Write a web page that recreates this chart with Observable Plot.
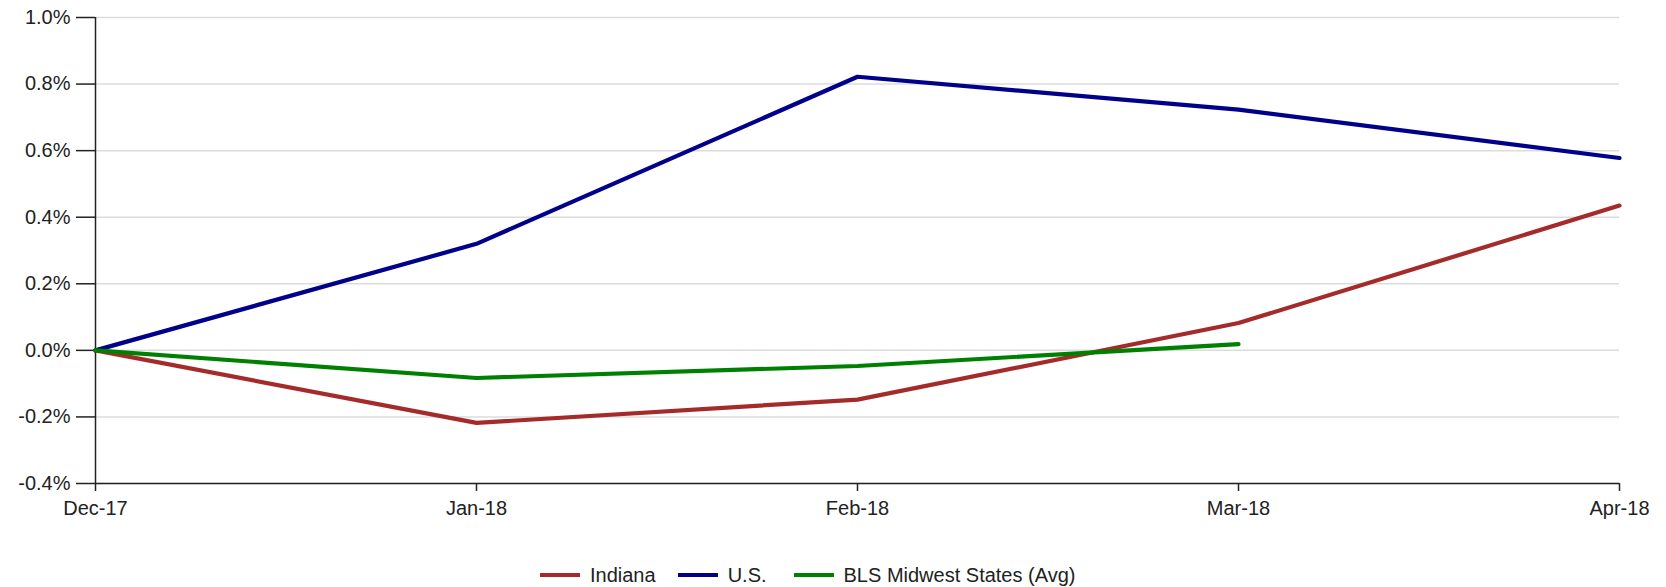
<!DOCTYPE html>
<html>
<head>
<meta charset="utf-8">
<script src="https://cdn.jsdelivr.net/npm/d3@7"></script>
<script src="https://cdn.jsdelivr.net/npm/@observablehq/plot@0.6"></script>
<style>
  html, body { margin: 0; padding: 0; background: #fff; }
  body { width: 1666px; height: 587px; overflow: hidden; font-family: "Liberation Sans", Arial, sans-serif; }
  #legend { display: flex; align-items: center; margin-left: 540px; padding-top: 40px; font-size: 20px; color: #222; line-height: 20px; }
  .item { display: flex; align-items: center; }
  .sw { width: 40px; height: 4.5px; margin-right: 10px; }
</style>
</head>
<body>
<div id="chart"></div>
<div id="legend"></div>
<script>
const months = ["Dec-17", "Jan-18", "Feb-18", "Mar-18", "Apr-18"];
const indiana = [0, -0.218, -0.148, 0.082, 0.435];
const us = [0, 0.32, 0.822, 0.723, 0.578];
const midwest = [0, -0.083, -0.047, 0.019];
const seriesNames = ["Indiana", "U.S.", "BLS Midwest States (Avg)"];
const seriesColors = ["#a52a2a", "#00008b", "#008000"];
const yTicks = [-0.4, -0.2, 0, 0.2, 0.4, 0.6, 0.8, 1.0];

const seriesValues = [indiana, us, midwest];
const rows = [];
seriesValues.forEach((vals, si) => {
  vals.forEach((v, i) => rows.push({ month: months[i], value: v, series: seriesNames[si] }));
});

const chart = Plot.plot({
  width: 1666,
  height: 525,
  marginLeft: 95,
  marginRight: 47,
  marginTop: 17,
  marginBottom: 42,
  style: { fontFamily: "'Liberation Sans', Arial, sans-serif", fontSize: "20px", color: "#222", background: "#fff" },
  x: { type: "point", domain: months, padding: 0, label: null },
  y: { domain: [-0.4, 1.0], label: null },
  color: { domain: seriesNames, range: seriesColors },
  marks: [
    Plot.gridY(yTicks, { stroke: "#dcdcdc", strokeOpacity: 1, strokeWidth: 1.5 }),
    Plot.ruleY([-0.4], { stroke: "#222", strokeWidth: 1.5 }),
    Plot.ruleX([months[0]], { stroke: "#222", strokeWidth: 1.5 }),
    Plot.axisY(yTicks, { tickSize: 19, tickPadding: 6, tickFormat: d => d.toFixed(1) + "%", stroke: "#222", strokeWidth: 1.5, fill: "#222", label: null }),
    Plot.axisX(months, { tickSize: 8, tickPadding: 9.5, stroke: "#222", strokeWidth: 1.5, fill: "#222", label: null }),
    Plot.line(rows, { x: "month", y: "value", z: "series", stroke: "series", strokeWidth: 4.2 })
  ]
});
document.getElementById("chart").appendChild(chart);

const legend = document.getElementById("legend");
const itemGaps = [22, 27, 0];
seriesNames.forEach((name, i) => {
  const item = document.createElement("div");
  item.className = "item";
  item.style.marginRight = itemGaps[i] + "px";
  const sw = document.createElement("div");
  sw.className = "sw";
  sw.style.background = seriesColors[i];
  const label = document.createElement("span");
  label.textContent = name;
  item.appendChild(sw);
  item.appendChild(label);
  legend.appendChild(item);
});
</script>
</body>
</html>
